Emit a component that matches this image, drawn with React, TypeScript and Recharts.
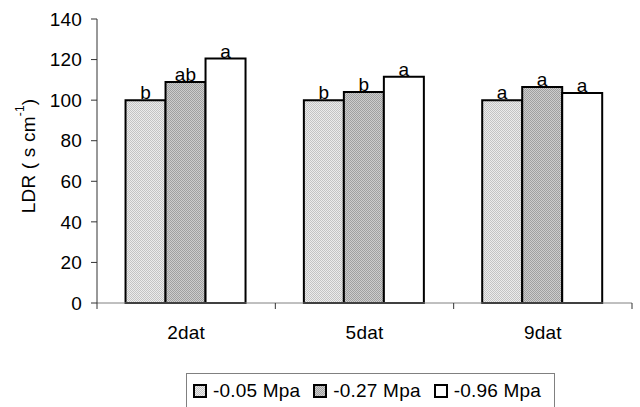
import React from 'react';
import { BarChart, Bar, XAxis, YAxis, LabelList, Legend } from 'recharts';

const categories = ['2dat', '5dat', '9dat'];
const seriesNames = ['-0.05 Mpa', '-0.27 Mpa', '-0.96 Mpa'];
const series1 = [100, 100, 100];
const series2 = [109, 104, 106.5];
const series3 = [120.5, 111.5, 103.5];
const letters1 = ['b', 'b', 'a'];
const letters2 = ['ab', 'b', 'a'];
const letters3 = ['a', 'a', 'a'];
const yTicks = [0, 20, 40, 60, 80, 100, 120, 140];

const fills = ['url(#pat1)', 'url(#pat2)', '#ffffff'];
const FONT = '"Liberation Sans", Arial, sans-serif';
const FS = 19;
const LS = 0.2;

const data = categories.map((c, i) => ({
  name: c,
  s1: series1[i],
  s2: series2[i],
  s3: series3[i],
  l1: letters1[i],
  l2: letters2[i],
  l3: letters3[i],
}));

const X_MARGIN = 23;

const XTick = (props: any) => {
  const { x, y, payload, index, visibleTicksCount } = props;
  const half = payload && typeof payload.offset === 'number' ? payload.offset : 0;
  const axisY = y - X_MARGIN;
  const last = index === (visibleTicksCount ?? categories.length) - 1;
  return (
    <g>
      {half > 0 && (
        <line x1={x - half} x2={x - half} y1={axisY} y2={axisY + 6} stroke="#333" strokeWidth={1} />
      )}
      {half > 0 && last && (
        <line x1={x + half} x2={x + half} y1={axisY} y2={axisY + 6} stroke="#333" strokeWidth={1} />
      )}
      <text x={x} y={y} dy="0.71em" textAnchor="middle" fontSize={FS} fontFamily={FONT} letterSpacing={LS} fill="#000">
        {payload.value}
      </text>
    </g>
  );
};

const YLabel = () => (
  <text
    x={0}
    y={0}
    transform="translate(28,156) rotate(-90)"
    textAnchor="middle"
    dominantBaseline="central"
    fontSize={FS}
    fontFamily={FONT}
    letterSpacing={LS}
    fill="#000"
  >
    LDR ( s cm
    <tspan fontSize={12} dy={-8}>-1</tspan>
    <tspan dy={8}>)</tspan>
  </text>
);

const LegendBox = () => (
  <div
    style={{
      width: 369,
      height: 34,
      boxSizing: 'border-box',
      border: '1px solid #808080',
      borderBottom: 'none',
      background: '#fff',
      display: 'flex',
      alignItems: 'center',
      paddingLeft: 6,
      fontFamily: FONT,
      fontSize: FS,
      letterSpacing: LS,
      color: '#000',
      whiteSpace: 'nowrap',
    }}
  >
    {seriesNames.map((n, i) => (
      <div key={n} style={{ width: 122, display: 'flex', alignItems: 'center' }}>
        <svg width={14} height={14} style={{ display: 'block' }}>
          <rect x={1} y={1} width={12} height={12} fill={fills[i]} stroke="#000" strokeWidth={2} />
        </svg>
        <span style={{ marginLeft: 6 }}>{n}</span>
      </div>
    ))}
  </div>
);

export default function App() {
  return (
    <div style={{ position: 'absolute', left: 0, top: 0, background: '#fff' }}>
      <BarChart
        width={640}
        height={407}
        data={data}
        margin={{ top: 19, right: 8, bottom: 74, left: 0 }}
        barCategoryGap="16%"
        barGap={0}
      >
        <defs>
          <pattern id="pat1" width={2} height={2} patternUnits="userSpaceOnUse">
            <rect x={0} y={0} width={2} height={2} fill="#ececec" />
            <rect x={0} y={0} width={1} height={1} fill="#c4c4c4" />
            <rect x={1} y={1} width={1} height={1} fill="#c4c4c4" />
          </pattern>
          <pattern id="pat2" width={2} height={2} patternUnits="userSpaceOnUse">
            <rect x={0} y={0} width={2} height={2} fill="#cdcdcd" />
            <rect x={0} y={0} width={1} height={1} fill="#a0a0a0" />
            <rect x={1} y={1} width={1} height={1} fill="#a0a0a0" />
          </pattern>
        </defs>
        <XAxis
          dataKey="name"
          height={30}
          axisLine={{ stroke: '#808080' }}
          tickLine={false}
          tickSize={0}
          tickMargin={X_MARGIN}
          tick={<XTick />}
          interval={0}
        />
        <YAxis
          width={97}
          domain={[0, 140]}
          ticks={yTicks}
          interval={0}
          axisLine={{ stroke: '#333' }}
          tickLine={{ stroke: '#333' }}
          tickSize={6}
          tickMargin={9}
          tick={{ fontSize: FS, fontFamily: FONT, fill: '#000', letterSpacing: LS }}
          label={{ content: () => <YLabel /> }}
        />
        <Legend
          layout="vertical"
          align="center"
          verticalAlign="middle"
          wrapperStyle={{ left: 186, top: 373, width: 'auto', height: 'auto' }}
          content={() => <LegendBox />}
        />
        <Bar dataKey="s1" name={seriesNames[0]} fill={fills[0]} stroke="#000" strokeWidth={2} isAnimationActive={false}>
          <LabelList dataKey="l1" position="top" offset={1} fill="#000" fontSize={FS} fontFamily={FONT} letterSpacing={LS} />
        </Bar>
        <Bar dataKey="s2" name={seriesNames[1]} fill={fills[1]} stroke="#000" strokeWidth={2} isAnimationActive={false}>
          <LabelList dataKey="l2" position="top" offset={1} fill="#000" fontSize={FS} fontFamily={FONT} letterSpacing={LS} />
        </Bar>
        <Bar dataKey="s3" name={seriesNames[2]} fill={fills[2]} stroke="#000" strokeWidth={2} isAnimationActive={false}>
          <LabelList dataKey="l3" position="top" offset={1} fill="#000" fontSize={FS} fontFamily={FONT} letterSpacing={LS} />
        </Bar>
      </BarChart>
    </div>
  );
}
